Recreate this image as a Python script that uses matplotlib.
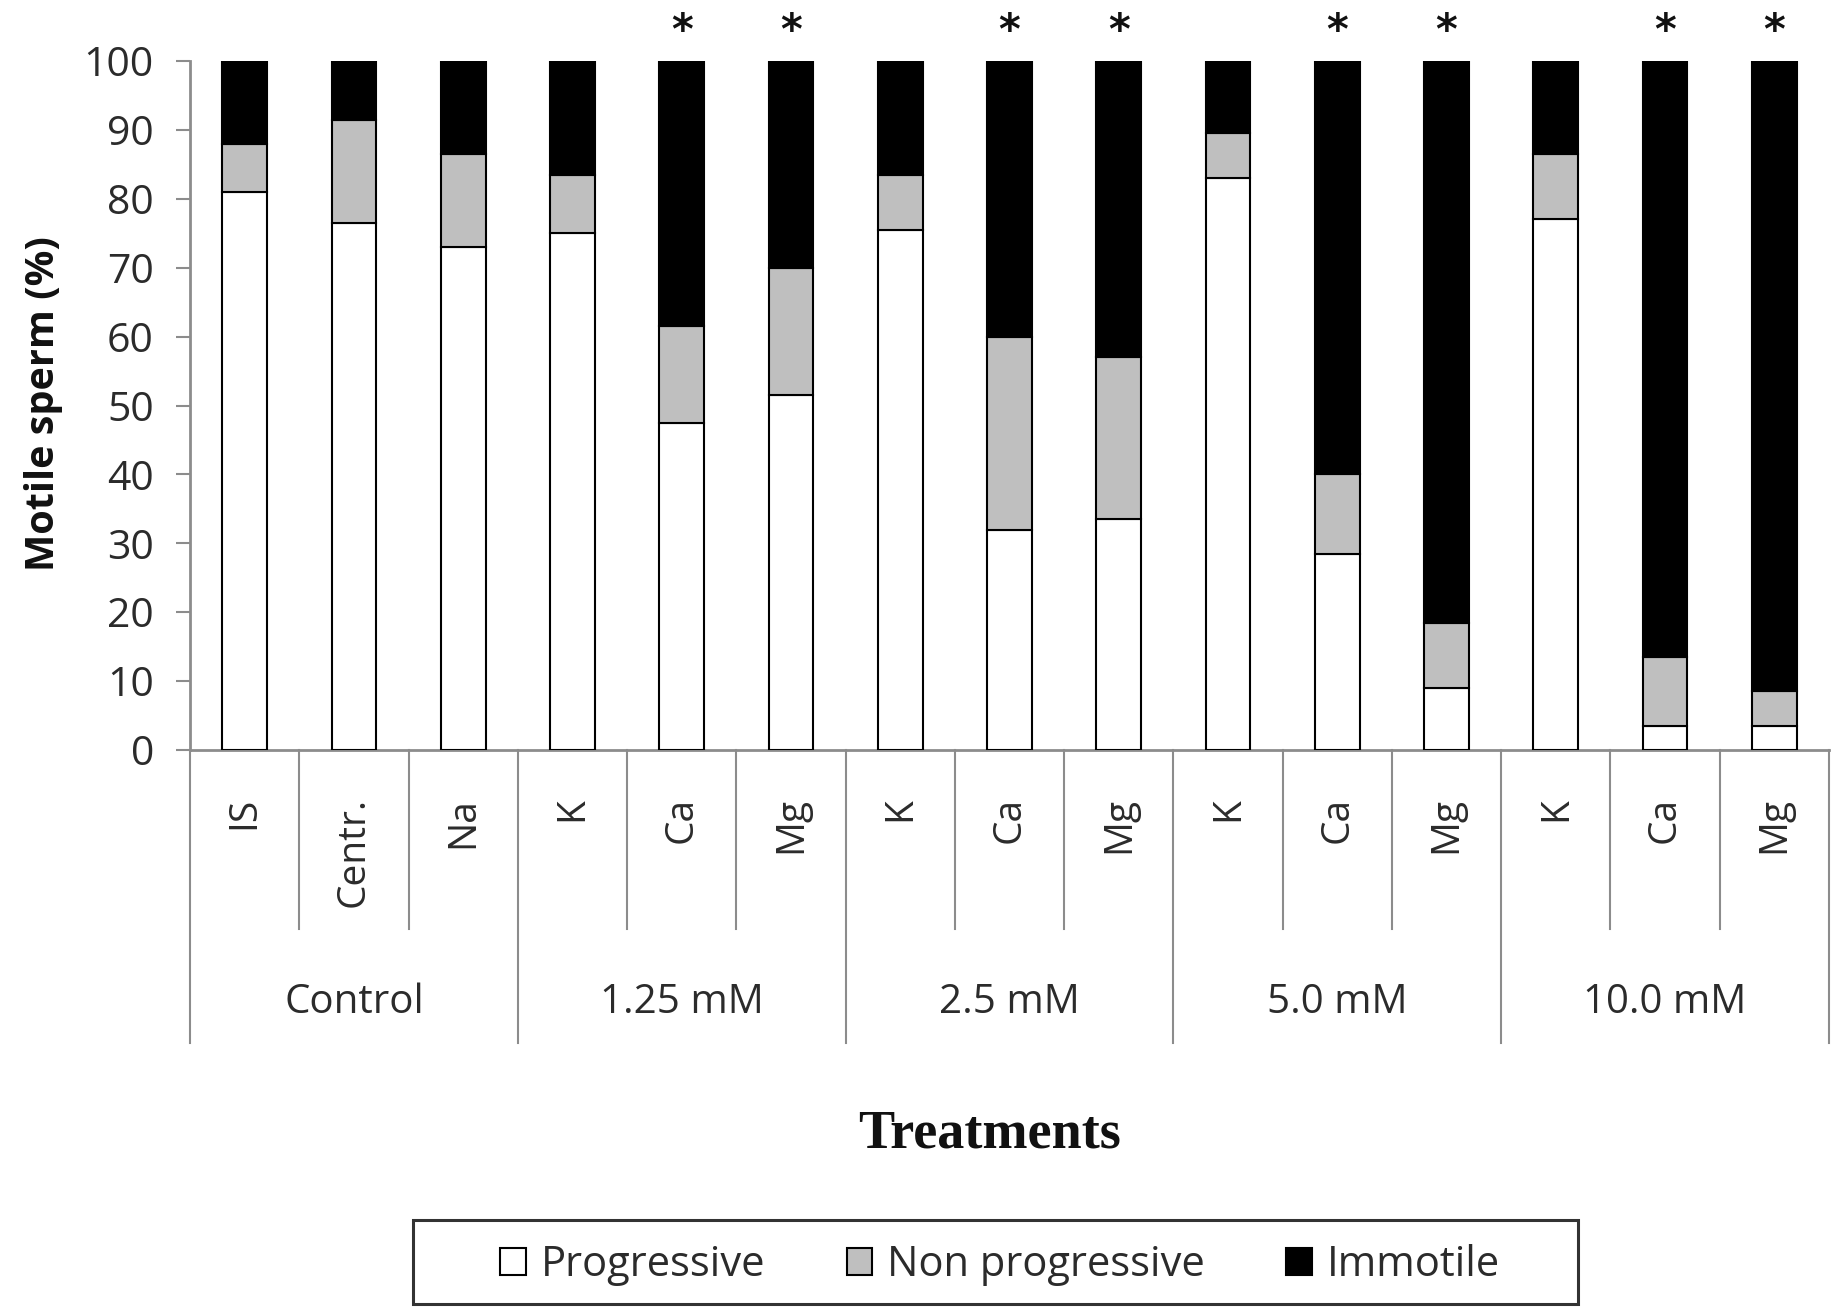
import matplotlib
matplotlib.use('Agg')
import matplotlib.pyplot as plt
from matplotlib.patches import Rectangle, Patch
import matplotlib.transforms as mtrans

categories = ['IS', 'Centr.', 'Na', 'K', 'Ca', 'Mg', 'K', 'Ca', 'Mg',
              'K', 'Ca', 'Mg', 'K', 'Ca', 'Mg']
groups = ['Control', '1.25 mM', '2.5 mM', '5.0 mM', '10.0 mM']
group_sizes = [3, 3, 3, 3, 3]
progressive = [81, 76.5, 73, 75, 47.5, 51.5, 75.5, 32, 33.5, 83, 28.5, 9, 77, 3.5, 3.5]
non_progressive = [7, 15, 13.5, 8.5, 14, 18.5, 8, 28, 23.5, 6.5, 11.5, 9.5, 9.5, 10, 5]
immotile = [12, 8.5, 13.5, 16.5, 38.5, 30, 16.5, 40, 43, 10.5, 60, 81.5, 13.5, 86.5, 91.5]
significant = [False, False, False, False, True, True, False, True, True,
               False, True, True, False, True, True]
series_names = ['Progressive', 'Non progressive', 'Immotile']
series_colors = ['white', '#bfbfbf', 'black']
yticks = [0, 10, 20, 30, 40, 50, 60, 70, 80, 90, 100]

FONT = 'Open Sans'
TXT = '#2b2b2b'
AXC = '#8c8c8c'

W, H = 1837, 1307
fig = plt.figure(figsize=(W / 100, H / 100), dpi=100)
ax = fig.add_axes([190 / W, 1 - 750 / H, (1829 - 190) / W, (750 - 61) / H])

x = [i + 0.5 for i in range(len(categories))]
bw = 0.41
bottom2 = [p + n for p, n in zip(progressive, non_progressive)]
ax.bar(x, progressive, width=bw, color=series_colors[0], edgecolor='black',
       linewidth=1.5, label=series_names[0], zorder=3)
ax.bar(x, non_progressive, width=bw, bottom=progressive, color=series_colors[1],
       edgecolor='black', linewidth=1.5, label=series_names[1], zorder=3)
ax.bar(x, immotile, width=bw, bottom=bottom2, color=series_colors[2],
       edgecolor='black', linewidth=1.5, label=series_names[2], zorder=3)

for xi, s in zip(x, significant):
    if s:
        ax.text(xi, 102.4, '*', ha='center', va='baseline', fontsize=30,
                fontweight='bold', family='DejaVu Sans', color='#111111', clip_on=False)

ax.set_xlim(0, len(categories))
ax.set_ylim(0, 100)
ax.set_yticks(yticks)
ax.set_yticklabels([str(v) for v in yticks], fontsize=29.5, family=FONT, color=TXT)
ax.tick_params(axis='y', length=10, width=1.5, color=AXC, pad=16)
ax.set_xticks([])
for side in ['top', 'right']:
    ax.spines[side].set_visible(False)
for side in ['left', 'bottom']:
    ax.spines[side].set_color(AXC)
    ax.spines[side].set_linewidth(2)

# category / group axis
trans = mtrans.blended_transform_factory(ax.transData, ax.transAxes)
ax_h = 750 - 61
y_short = -(929 - 750) / ax_h
y_long = -(1043 - 750) / ax_h
group_edges = [0]
for g in group_sizes:
    group_edges.append(group_edges[-1] + g)
for b in range(len(categories) + 1):
    yb = y_long if b in group_edges else y_short
    ax.plot([b, b], [0, yb], transform=trans, color=AXC, lw=1.5, clip_on=False)
for xi, c in zip(x, categories):
    ax.text(xi, -(797 - 750) / ax_h, c, rotation=90, ha='center', va='top',
            transform=trans, fontsize=28, family=FONT, color=TXT)
for gi, g in enumerate(groups):
    gc = (group_edges[gi] + group_edges[gi + 1]) / 2
    ax.text(gc, -(1003 - 750) / ax_h, g, ha='center', va='center',
            transform=trans, fontsize=29, family=FONT, color=TXT)

fig.text(44 / W, 1 - 404 / H, 'Motile sperm (%)', rotation=90, ha='center',
         va='center', fontsize=28.5, fontweight='bold', family=FONT, color='#111111')
fig.text(990 / W, 1 - 1134 / H, 'Treatments', ha='center', va='center',
         fontsize=39, fontweight='bold', family='Liberation Serif', color='#111111')

handles = [Patch(facecolor=c, edgecolor='black', linewidth=1.5) for c in series_colors]
leg = fig.legend(handles, series_names, loc='center', bbox_to_anchor=(1000 / W, 1 - 1265 / H),
                 ncol=3, frameon=False, prop={'family': FONT, 'size': 30},
                 handlelength=0.62, handleheight=0.62, handletextpad=0.35,
                 columnspacing=1.95)
for t in leg.get_texts():
    t.set_color(TXT)
fig.patches.append(Rectangle((413 / W, 1 - 1304 / H), (1578 - 413) / W, (1304 - 1220) / H,
                             transform=fig.transFigure, fill=False, edgecolor='#333333',
                             linewidth=2.2))

fig.savefig('out.png', dpi=100, facecolor='white')
